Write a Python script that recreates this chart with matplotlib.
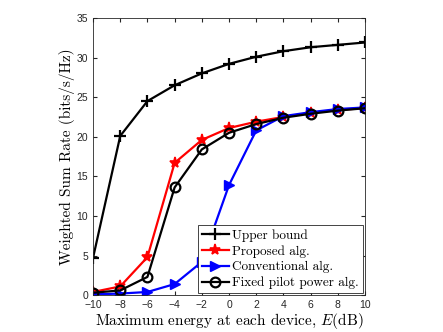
import matplotlib
matplotlib.use("Agg")
import matplotlib.pyplot as plt

energy = [-10, -8, -6, -4, -2, 0, 2, 4, 6, 8, 10]
upper_bound = [4.7, 20.1, 24.5, 26.5, 28.0, 29.2, 30.1, 30.8, 31.3, 31.6, 31.9]
proposed = [0.4, 1.1, 4.8, 16.7, 19.6, 21.1, 21.9, 22.5, 23.0, 23.4, 23.6]
conventional = [0.1, 0.2, 0.4, 1.4, 4.2, 13.9, 20.8, 22.6, 23.1, 23.5, 23.7]
fixed_pilot = [0.3, 0.6, 2.3, 13.6, 18.4, 20.5, 21.6, 22.4, 22.9, 23.3, 23.6]

xticks = list(range(-10, 11, 2))
yticks = list(range(0, 36, 5))

plt.rcParams["mathtext.fontset"] = "cm"

fig = plt.figure(figsize=(4.43, 3.32), dpi=100)
ax = fig.add_axes([0.21, 0.111, 0.614, 0.835])

ax.plot(energy, upper_bound, color="black", marker="+", markersize=9,
        markeredgewidth=1.6, linewidth=1.6, label="Upper bound")
ax.plot(energy, proposed, color="red", marker="*", markersize=8,
        markeredgewidth=1.2, linewidth=1.6, label="Proposed alg.")
ax.plot(energy, conventional, color="blue", marker=">", markersize=7,
        linewidth=1.6, label="Conventional alg.")
ax.plot(energy, fixed_pilot, color="black", marker="o", markersize=7,
        markerfacecolor="none", markeredgewidth=1.6, linewidth=1.6,
        label="Fixed pilot power alg.")

ax.set_xlim(-10, 10)
ax.set_ylim(0, 35)
ax.set_xticks(xticks)
ax.set_yticks(yticks)
ax.tick_params(direction="in", top=True, right=True, labelsize=7.5,
               colors="#262626", length=3)
for lab in ax.get_xticklabels() + ax.get_yticklabels():
    lab.set_fontfamily("Liberation Sans")
for sp in ax.spines.values():
    sp.set_color("#262626")
    sp.set_linewidth(0.6)

ax.set_xlabel("Maximum energy at each device, $E$(dB)", fontfamily="cmr10",
              fontsize=11, labelpad=1)
ax.set_ylabel("Weighted Sum Rate (bits/s/Hz)", fontfamily="cmr10",
              fontsize=11, labelpad=1)

leg = ax.legend(loc="lower right", prop={"family": "cmr10", "size": 9.5},
                fancybox=False, edgecolor="#262626", framealpha=1,
                handlelength=2.0, handletextpad=0.3, borderpad=0.3,
                labelspacing=0.25, borderaxespad=0.15)
leg.get_frame().set_linewidth(0.6)

fig.savefig("out.png", dpi=100)
